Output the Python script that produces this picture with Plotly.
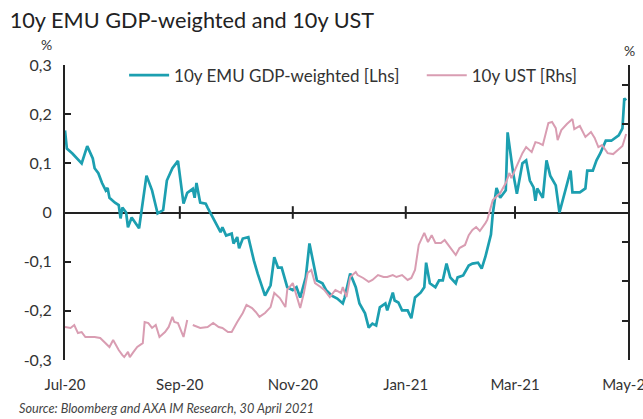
import plotly.graph_objects as go

# ---------------- data ----------------
emu_dates = [
    "2020-07-01", "2020-07-02", "2020-07-05", "2020-07-10", "2020-07-13", "2020-07-16", "2020-07-17",
    "2020-07-19", "2020-07-21", "2020-07-23", "2020-07-24", "2020-07-25", "2020-07-28", "2020-07-30",
    "2020-07-31", "2020-08-01", "2020-08-03", "2020-08-04", "2020-08-06", "2020-08-08", "2020-08-10",
    "2020-08-14", "2020-08-17", "2020-08-20", "2020-08-23", "2020-08-25", "2020-08-28", "2020-08-31",
    "2020-09-03", "2020-09-05", "2020-09-08", "2020-09-09", "2020-09-10", "2020-09-12", "2020-09-15",
    "2020-09-16", "2020-09-18", "2020-09-21", "2020-09-23", "2020-09-24", "2020-09-26", "2020-09-29",
    "2020-09-30", "2020-10-02", "2020-10-03", "2020-10-05", "2020-10-08", "2020-10-11", "2020-10-13",
    "2020-10-17", "2020-10-20", "2020-10-22", "2020-10-24", "2020-10-26", "2020-10-29", "2020-11-01",
    "2020-11-03", "2020-11-05", "2020-11-08", "2020-11-10", "2020-11-12", "2020-11-14", "2020-11-17",
    "2020-11-19", "2020-11-22", "2020-11-25", "2020-11-28", "2020-11-29", "2020-12-02", "2020-12-05",
    "2020-12-07", "2020-12-10", "2020-12-12", "2020-12-14", "2020-12-16", "2020-12-18", "2020-12-21",
    "2020-12-22", "2020-12-25", "2020-12-26", "2020-12-28", "2020-12-30", "2021-01-02", "2021-01-04",
    "2021-01-06", "2021-01-09", "2021-01-11", "2021-01-12", "2021-01-14", "2021-01-17", "2021-01-19",
    "2021-01-21", "2021-01-23", "2021-01-25", "2021-01-28", "2021-01-29", "2021-02-01", "2021-02-04",
    "2021-02-06", "2021-02-09", "2021-02-11", "2021-02-13", "2021-02-16", "2021-02-17", "2021-02-19",
    "2021-02-21", "2021-02-24", "2021-02-25", "2021-02-28", "2021-03-02", "2021-03-05", "2021-03-07",
    "2021-03-09", "2021-03-11", "2021-03-12", "2021-03-13", "2021-03-16", "2021-03-18", "2021-03-20",
    "2021-03-23", "2021-03-25", "2021-03-28", "2021-03-31", "2021-04-01", "2021-04-05", "2021-04-08",
    "2021-04-09", "2021-04-12", "2021-04-14", "2021-04-16", "2021-04-19", "2021-04-22", "2021-04-26",
    "2021-04-28", "2021-04-29", "2021-04-30",
]
emu_values = [
    0.167, 0.130, 0.120, 0.100, 0.135, 0.110, 0.090,
    0.080, 0.060, 0.045, 0.050, 0.030, 0.020, 0.015,
    -0.012, 0.010, 0.000, -0.030, -0.010, -0.022, -0.032,
    0.075, 0.045, -0.002, 0.005, 0.065, 0.090, 0.105,
    0.018, 0.040, 0.048, 0.030, 0.060, 0.020, 0.018,
    0.010, -0.005, -0.026, -0.040, -0.030, -0.047, -0.043,
    -0.063, -0.050, -0.073, -0.053, -0.050, -0.098, -0.124,
    -0.169, -0.148, -0.091, -0.112, -0.112, -0.152, -0.158,
    -0.152, -0.173, -0.132, -0.063, -0.104, -0.138, -0.144,
    -0.158, -0.169, -0.175, -0.185, -0.173, -0.124, -0.152,
    -0.185, -0.205, -0.234, -0.226, -0.230, -0.193, -0.185,
    -0.199, -0.163, -0.179, -0.183, -0.199, -0.199, -0.215,
    -0.173, -0.163, -0.152, -0.102, -0.144, -0.152, -0.138,
    -0.138, -0.104, -0.132, -0.144, -0.132, -0.128, -0.108,
    -0.104, -0.102, -0.114, -0.090, -0.045, -0.002, 0.050,
    0.030, 0.045, 0.163, 0.080, 0.038, 0.100, 0.106,
    0.065, 0.051, 0.024, 0.049, 0.030, 0.106, 0.075,
    0.055, 0.000, 0.045, 0.085, 0.041, 0.041, 0.049,
    0.085, 0.085, 0.106, 0.120, 0.146, 0.146, 0.157,
    0.171, 0.232, 0.228,
]

ust_dates = [
    "2020-07-01", "2020-07-04", "2020-07-06", "2020-07-08", "2020-07-10", "2020-07-12", "2020-07-15",
    "2020-07-17", "2020-07-20", "2020-07-23", "2020-07-25", "2020-07-27", "2020-07-30", "2020-08-01",
    "2020-08-02", "2020-08-04", "2020-08-05", "2020-08-07", "2020-08-09", "2020-08-12", "2020-08-13",
    "2020-08-15", "2020-08-17", "2020-08-19", "2020-08-21", "2020-08-24", "2020-08-26", "2020-08-28",
    "2020-08-29", "2020-08-31", "2020-09-03", "2020-09-05", "2020-09-07", "2020-09-08", "2020-09-12",
    "2020-09-16", "2020-09-19", "2020-09-22", "2020-09-24", "2020-09-27", "2020-09-29", "2020-10-02",
    "2020-10-05", "2020-10-07", "2020-10-10", "2020-10-12", "2020-10-14", "2020-10-17", "2020-10-20",
    "2020-10-22", "2020-10-25", "2020-10-28", "2020-10-29", "2020-11-01", "2020-11-03", "2020-11-05",
    "2020-11-07", "2020-11-09", "2020-11-11", "2020-11-13", "2020-11-16", "2020-11-18", "2020-11-21",
    "2020-11-24", "2020-11-27", "2020-11-28", "2020-11-30", "2020-12-02", "2020-12-05", "2020-12-06",
    "2020-12-09", "2020-12-12", "2020-12-14", "2020-12-17", "2020-12-20", "2020-12-22", "2020-12-25",
    "2020-12-27", "2020-12-30", "2021-01-02", "2021-01-04", "2021-01-06", "2021-01-08", "2021-01-10",
    "2021-01-11", "2021-01-13", "2021-01-15", "2021-01-17", "2021-01-20", "2021-01-22", "2021-01-25",
    "2021-01-28", "2021-01-30", "2021-02-02", "2021-02-04", "2021-02-06", "2021-02-08", "2021-02-10",
    "2021-02-13", "2021-02-14", "2021-02-17", "2021-02-19", "2021-02-21", "2021-02-24", "2021-02-26",
    "2021-02-27", "2021-03-02", "2021-03-05", "2021-03-07", "2021-03-10", "2021-03-12", "2021-03-14",
    "2021-03-16", "2021-03-19", "2021-03-21", "2021-03-23", "2021-03-24", "2021-03-26", "2021-03-29",
    "2021-04-01", "2021-04-02", "2021-04-05", "2021-04-08", "2021-04-11", "2021-04-13", "2021-04-15",
    "2021-04-17", "2021-04-20", "2021-04-23", "2021-04-26", "2021-04-28", "2021-04-30",
]
ust_values = [
    0.668, 0.663, 0.678, 0.637, 0.642, 0.617, 0.617,
    0.617, 0.612, 0.586, 0.566, 0.602, 0.551, 0.525,
    0.515, 0.541, 0.515, 0.541, 0.566, 0.586, 0.693,
    0.688, 0.663, 0.678, 0.617, 0.642, 0.668, 0.719,
    0.693, 0.688, 0.617, 0.703, None, 0.678, 0.663,
    0.668, 0.688, 0.668, 0.663, 0.642, 0.642, 0.693,
    0.739, 0.780, 0.764, 0.744, 0.719, 0.739, 0.769,
    0.841, 0.815, 0.769, 0.856, 0.891, 0.830, 0.764,
    0.841, 0.942, 0.958, 0.891, 0.871, 0.856, 0.820,
    0.856, 0.841, 0.871, 0.820, 0.922, 0.947, 0.932,
    0.917, 0.897, 0.907, 0.932, 0.922, 0.922, 0.932,
    0.922, 0.932, 0.907, 0.917, 0.958, 1.085, 1.125,
    1.146, 1.100, 1.135, 1.095, 1.095, 1.110, 1.074,
    1.034, 1.069, 1.085, 1.135, 1.161, 1.176, 1.156,
    1.196, 1.212, 1.313, 1.329, 1.349, 1.400, 1.451,
    1.425, 1.491, 1.552, 1.583, 1.557, 1.608, 1.603,
    1.593, 1.705, 1.710, 1.679, 1.618, 1.669, 1.700,
    1.725, 1.674, 1.690, 1.634, 1.659, 1.629, 1.583,
    1.593, 1.552, 1.547, 1.573, 1.588, 1.649,
]

x_tick_dates = ["2020-07-01", "2020-09-01", "2020-11-01", "2021-01-01", "2021-03-01", "2021-05-01"]
x_tick_labels = ["Jul-20", "Sep-20", "Nov-20", "Jan-21", "Mar-21", "May-21"]
inner_tick_dates = ["2020-09-01", "2020-11-01", "2021-01-01", "2021-03-01"]
left_tick_vals = [-0.3, -0.2, -0.1, 0.0, 0.1, 0.2, 0.3]
left_tick_labels = ["-0,3", "-0,2", "-0,1", "0", "0,1", "0,2", "0,3"]
right_tick_vals = [0.5, 0.7, 0.9, 1.1, 1.3, 1.5, 1.7, 1.9]

TEAL = "#1c9fb0"
PINK = "#d99db2"
AXIS = "#222222"
FONT = "Lato, Open Sans, sans-serif"

fig = go.Figure()
fig.add_trace(go.Scatter(
    x=emu_dates, y=emu_values, mode="lines",
    name="10y EMU GDP-weighted [Lhs]\u00a0\u00a0\u00a0\u00a0",
    line=dict(color=TEAL, width=2.7), yaxis="y", xaxis="x",
))
fig.add_trace(go.Scatter(
    x=ust_dates, y=ust_values, mode="lines", name="10y UST [Rhs]",
    line=dict(color=PINK, width=2.0), yaxis="y2", xaxis="x", connectgaps=False,
))
# small date-axis tick marks crossing the zero line
fig.add_trace(go.Scatter(
    x=inner_tick_dates, y=[0] * len(inner_tick_dates), mode="markers",
    marker=dict(symbol="line-ns", size=9, line=dict(color=AXIS, width=2)),
    showlegend=False, hoverinfo="skip", yaxis="y", xaxis="x",
))

fig.update_layout(
    width=643, height=419,
    margin=dict(l=65, r=15, t=65, b=59, autoexpand=False),
    paper_bgcolor="white", plot_bgcolor="white",
    font=dict(family=FONT, size=14, color="#333"),
    title=dict(text="10y EMU GDP-weighted and 10y UST", x=0.015, xanchor="left",
               y=0.97, yanchor="top", font=dict(size=21.7, color="#222", family=FONT)),
    showlegend=True,
    legend=dict(orientation="h", x=0.105, xanchor="left", y=1.025, yanchor="top",
                font=dict(size=17, color="#333"), bgcolor="rgba(255,255,255,0)",
                itemwidth=40, tracegroupgap=0),
    xaxis=dict(
        type="date", range=["2020-07-01", "2021-05-01"], automargin=False,
        tickmode="array", tickvals=x_tick_dates, ticktext=x_tick_labels,
        ticks="", showline=False, showgrid=False, zeroline=False,
        ticklabelstandoff=14, ticklabeloverflow="allow",
        tickfont=dict(size=15, color="#333"),
    ),
    yaxis=dict(
        range=[-0.3, 0.3], tickmode="array", tickvals=left_tick_vals, ticktext=left_tick_labels,
        ticks="inside", ticklen=6, tickwidth=2, tickcolor=AXIS, automargin=False,
        showline=True, linecolor=AXIS, linewidth=2, showgrid=False,
        zeroline=True, zerolinecolor=AXIS, zerolinewidth=2,
        ticklabelstandoff=8, tickfont=dict(size=16, color="#333"),
    ),
    yaxis2=dict(
        range=[0.5, 2.0], overlaying="y", side="right", anchor="x", automargin=False,
        tickmode="array", tickvals=right_tick_vals,
        ticks="inside", ticklen=6, tickwidth=2, tickcolor=AXIS,
        showline=True, linecolor=AXIS, linewidth=2, showgrid=False, zeroline=False,
        showticklabels=False,
    ),
    annotations=[
        dict(text="%", xref="paper", yref="paper", x=-0.032, y=1.035, xanchor="center",
             yanchor="bottom", showarrow=False, font=dict(size=14, color="#333")),
        dict(text="%", xref="paper", yref="paper", x=1.003, y=1.015, xanchor="center",
             yanchor="bottom", showarrow=False, font=dict(size=14, color="#333")),
        dict(text="<i>Source: Bloomberg and AXA IM Research, 30 April 2021</i>",
             xref="paper", yref="paper", x=-0.085, y=-0.163, xanchor="left", yanchor="middle",
             showarrow=False, font=dict(size=12.7, color="#444")),
    ],
)

fig.write_html("out.html")
